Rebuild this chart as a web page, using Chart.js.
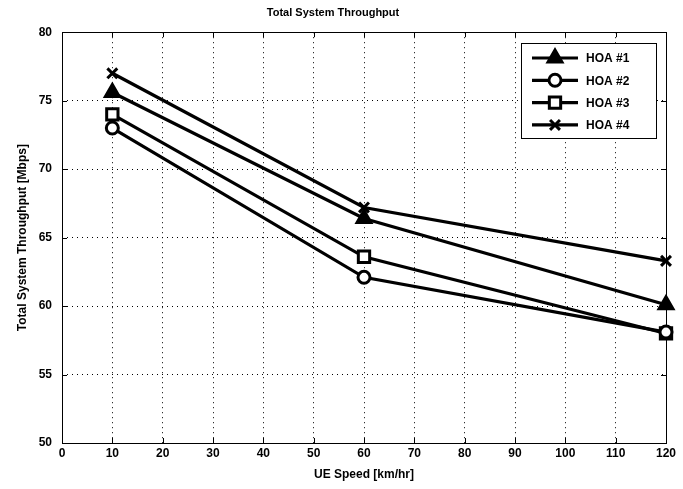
<!DOCTYPE html>
<html>
<head>
<meta charset="utf-8">
<script src="https://cdn.jsdelivr.net/npm/chart.js@4"></script>
<style>
html,body{margin:0;padding:0;background:#fff;}
#wrap{width:683px;height:489px;}
</style>
</head>
<body>
<div id="wrap"><canvas id="c" width="683" height="489"></canvas></div>
<script>
const speeds = [10, 60, 120];
const hoa1 = [75.6, 66.4, 60.1];
const hoa2 = [73.0, 62.1, 58.1];
const hoa3 = [74.0, 63.6, 58.0];
const hoa4 = [77.0, 67.2, 63.3];
const seriesNames = ['HOA #1', 'HOA #2', 'HOA #3', 'HOA #4'];
const markers = ['triangle', 'circle', 'rect', 'crossRot'];
const xTicks = [0,10,20,30,40,50,60,70,80,90,100,110,120];
const yTicks = [50,55,60,65,70,75,80];

const FONT = '"Liberation Sans", Arial, sans-serif';

function radiusFor(style) {
  return style === 'triangle' ? 8 : (style === 'crossRot' ? 7 : (style === 'rect' ? 8 : 6));
}
function mk(name, vals, style) {
  return {
    label: name,
    data: speeds.map((s, k) => ({x: s, y: vals[k]})),
    borderColor: '#000',
    backgroundColor: '#fff',
    borderWidth: 3.2,
    pointStyle: style,
    pointRadius: radiusFor(style),
    pointBorderWidth: 3,
    pointBackgroundColor: style === 'triangle' ? '#000' : '#fff',
    pointBorderColor: '#000',
    tension: 0,
    clip: false
  };
}
const datasets = [
  mk(seriesNames[0], hoa1, markers[0]),
  mk(seriesNames[1], hoa2, markers[1]),
  mk(seriesNames[2], hoa3, markers[2]),
  mk(seriesNames[3], hoa4, markers[3])
];

const frame = {
  id: 'frame',
  beforeDatasetsDraw(chart) {
    const {ctx, chartArea: a, scales: {x, y}} = chart;
    ctx.save();
    ctx.strokeStyle = '#000';
    ctx.lineWidth = 1;
    ctx.strokeRect(Math.round(a.left)+0.5, Math.round(a.top)+0.5, Math.round(a.right-a.left), Math.round(a.bottom-a.top));
    const t = 5;
    ctx.beginPath();
    xTicks.forEach(v => {
      const px = Math.round(x.getPixelForValue(v)) + 0.5;
      ctx.moveTo(px, a.bottom); ctx.lineTo(px, a.bottom - t);
      ctx.moveTo(px, a.top); ctx.lineTo(px, a.top + t);
    });
    yTicks.forEach(v => {
      const py = Math.round(y.getPixelForValue(v)) + 0.5;
      ctx.moveTo(a.left, py); ctx.lineTo(a.left + t, py);
      ctx.moveTo(a.right, py); ctx.lineTo(a.right - t, py);
    });
    ctx.stroke();
    ctx.restore();
  },
  afterDraw(chart) {
    const ctx = chart.ctx;
    const bx = 521, by = 43, bw = 135, bh = 95;
    ctx.save();
    ctx.fillStyle = '#fff';
    ctx.fillRect(bx, by, bw, bh);
    ctx.strokeStyle = '#000';
    ctx.lineWidth = 1;
    ctx.strokeRect(bx + 0.5, by + 0.5, bw, bh);
    chart.data.datasets.forEach((ds, i) => {
      const cy = 58 + i * 22.3;
      ctx.beginPath();
      ctx.strokeStyle = '#000';
      ctx.lineWidth = ds.borderWidth;
      ctx.moveTo(532, cy); ctx.lineTo(578, cy);
      ctx.stroke();
      ctx.fillStyle = ds.pointBackgroundColor;
      ctx.strokeStyle = '#000';
      ctx.lineWidth = ds.pointBorderWidth;
      Chart.helpers.drawPoint(ctx, {pointStyle: ds.pointStyle, rotation: 0, radius: ds.pointRadius, borderWidth: ds.pointBorderWidth}, 555, cy);
      ctx.fillStyle = '#000';
      ctx.font = 'bold 12px ' + FONT;
      ctx.textBaseline = 'middle';
      ctx.textAlign = 'left';
      ctx.fillText(ds.label, 586, cy + 1);
    });
    ctx.restore();
  }
};

new Chart(document.getElementById('c'), {
  type: 'line',
  data: { datasets },
  plugins: [frame],
  options: {
    responsive: false,
    animation: false,
    devicePixelRatio: 1,
    layout: { padding: { right: 17, top: 0, left: 0, bottom: 0 } },
    plugins: {
      legend: { display: false },
      tooltip: { enabled: false },
      title: {
        display: true,
        text: 'Total System Throughput',
        color: '#000',
        font: { family: FONT, size: 11, weight: 'bold' },
        padding: { top: 6, bottom: 13 }
      }
    },
    scales: {
      x: {
        type: 'linear',
        min: 0, max: 120,
        afterBuildTicks(s) { s.ticks = xTicks.map(v => ({value: v})); },
        afterFit(s) { s.height = 46; },
        ticks: { color: '#000', font: { family: FONT, size: 12, weight: 'bold' }, padding: 3, maxRotation: 0, autoSkip: false },
        grid: { color: '#000', lineWidth: 1, drawTicks: false },
        border: { display: false, dash: [1, 4] },
        title: { display: true, text: 'UE Speed [km/hr]', color: '#000', font: { family: FONT, size: 12, weight: 'bold' }, padding: { top: 1, bottom: 7 } }
      },
      y: {
        type: 'linear',
        min: 50, max: 80,
        afterBuildTicks(s) { s.ticks = yTicks.map(v => ({value: v})); },
        afterFit(s) { s.width = 62; },
        ticks: { color: '#000', font: { family: FONT, size: 12, weight: 'bold' }, padding: 10, autoSkip: false },
        grid: { color: '#000', lineWidth: 1, drawTicks: false },
        border: { display: false, dash: [1, 4] },
        title: { display: true, text: 'Total System Throughput [Mbps]', color: '#000', font: { family: FONT, size: 12, weight: 'bold' }, padding: { top: 15, bottom: 2 } }
      }
    }
  }
});
</script>
</body>
</html>
